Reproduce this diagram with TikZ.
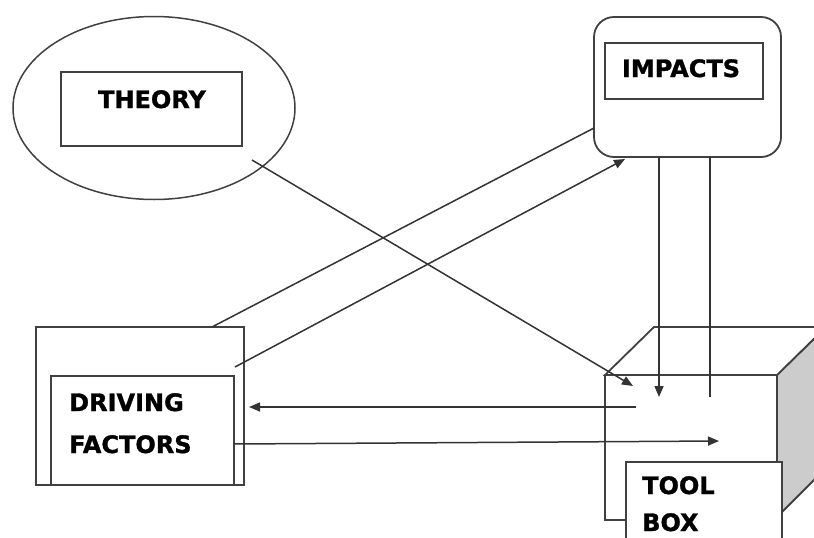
\documentclass[tikz,border=0pt]{standalone}
\usepackage{fontspec}
\setmainfont{DejaVu Sans}
\newfontfamily\heavyfont{DejaVu Sans Bold}[FakeBold=1.2]
\usetikzlibrary{arrows.meta,shapes.geometric}
\begin{document}
\begin{tikzpicture}[x=1pt,y=-1pt,
  ln/.style={line width=1.5pt,draw=black!80},
  arr/.style={ln,-{Triangle[length=11pt,width=9pt]}},
  boxx/.style={rectangle,draw=black!75,line width=1.8pt,inner sep=0pt,fill=white},
  lbl/.style={font=\fontsize{24}{28}\heavyfont,inner sep=0pt},
]
\useasboundingbox (0,0) rectangle (814,538);
\clip (0,0) rectangle (814,538);
% Theory
\node[ellipse,draw=black!75,line width=1.5pt,inner sep=0pt,minimum width=282pt,minimum height=183pt] (theory) at (154,108) {};
\node[boxx,minimum width=181pt,minimum height=74pt] (thbox) at (151.5,109) {};
\node[lbl,anchor=base] (thtxt) at (152,108) {THEORY};
% Impacts
\node[boxx,rounded corners=20pt,minimum width=187pt,minimum height=140pt] (imp) at (687.5,87) {};
\node[boxx,minimum width=158pt,minimum height=56pt] (impbox) at (684,71) {};
\node[lbl,anchor=base] (imptxt) at (681,77) {IMPACTS};
% Driving factors
\node[boxx,minimum width=208pt,minimum height=158pt] (dfout) at (140,406) {};
\node[boxx,minimum width=183pt,minimum height=109pt] (dfin) at (142.5,430.5) {};
\node[lbl,anchor=base west] (dft1) at (69,411) {DRIVING};
\node[lbl,anchor=base west] (dft2) at (69,453) {FACTORS};
% Tool box cube
\filldraw[fill=black!20,draw=black!75,line width=1.8pt] (777,375) -- (826,327) -- (826,468) -- (777,517) -- cycle;
\filldraw[fill=white,draw=black!75,line width=1.8pt] (605,375) -- (654,327) -- (826,327) -- (777,375) -- cycle;
\node[boxx,minimum width=172pt,minimum height=145pt] (tbfront) at (691,447.5) {};
\node[boxx,minimum width=156pt,minimum height=98pt] (tbin) at (704,511) {};
\node[lbl,anchor=base west] (tbt1) at (642,494) {TOOL};
\node[lbl,anchor=base west] (tbt2) at (642,531) {BOX};
% connector ends
\coordinate (thS) at (252,160);
\coordinate (tbA) at (633,386);
\coordinate (dfA) at (212,327);
\coordinate (impA) at (594,128);
\coordinate (dfB) at (235,367);
\coordinate (impB) at (625,159);
\coordinate (impC) at (659,157);
\coordinate (tbC) at (659,397);
\coordinate (tbD) at (710,397);
\coordinate (impD) at (710,157);
\coordinate (tbE) at (636,407);
\coordinate (dfE) at (249,407);
\coordinate (dfF) at (234,444);
\coordinate (tbF) at (719,441);
% connectors
\draw[arr] (thS) -- (tbA);
\draw[ln] (dfA) -- (impA);
\draw[arr] (dfB) -- (impB);
\draw[arr] (impC) -- (tbC);
\draw[ln] (tbD) -- (impD);
\draw[arr] (tbE) -- (dfE);
\draw[arr] (dfF) -- (tbF);
\end{tikzpicture}
\end{document}
